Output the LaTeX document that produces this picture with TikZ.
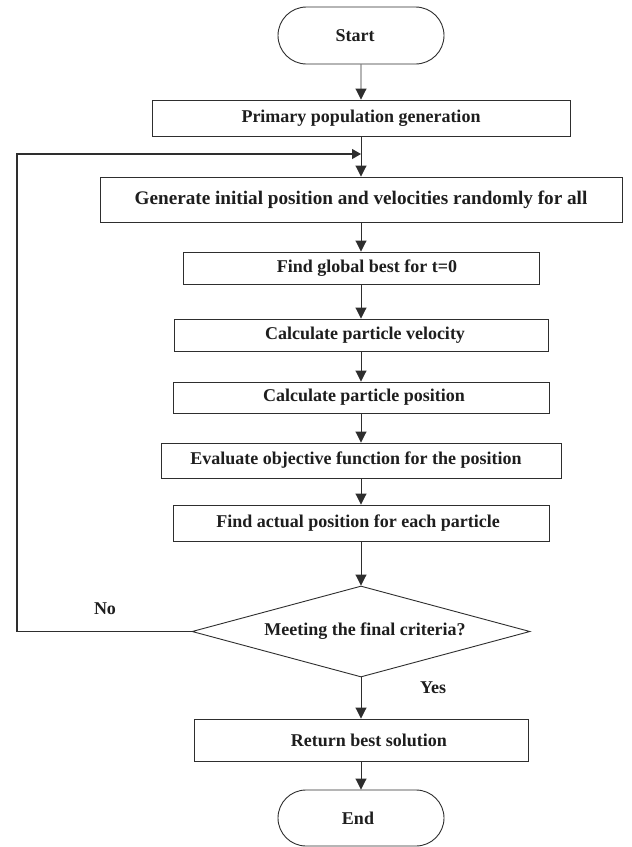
\documentclass[tikz,border=0pt]{standalone}
\usepackage{fontspec}
\setmainfont{Liberation Serif}
\usetikzlibrary{shapes.geometric,shapes.misc,arrows.meta}
\definecolor{ln}{HTML}{2E2E2E}
\definecolor{tx}{HTML}{1E1E1E}
\tikzset{
  base/.style={draw=ln,line width=0.9pt,text=tx,inner sep=0pt,font=\fontsize{18}{20}\selectfont\bfseries},
  procbox/.style={base,rectangle,minimum width=#1},
  term/.style={base,rounded rectangle,minimum width=166pt,minimum height=57pt},
  decide/.style={base,diamond,minimum width=338pt,minimum height=91pt,aspect=3.7},
  flow/.style={draw=ln,line width=0.9pt,-{Triangle[width=11pt,length=11pt]}},
  loopflow/.style={draw=ln,line width=1.1pt,-{Triangle[width=10pt,length=9pt]}},
  lbl/.style={text=tx,inner sep=0pt,font=\fontsize{18}{20}\selectfont\bfseries}
}
\begin{document}
\begin{tikzpicture}[x=1pt,y=1pt]
\useasboundingbox[fill=white] (0,0) rectangle (632,-847);
\node[term] (start) at (361,-35.5) {Start\hspace*{12pt}};
\node[procbox=418pt,minimum height=36pt] (pop) at (361,-118) {Primary population generation};
\node[procbox=522pt,minimum height=45pt,font=\fontsize{19.2}{21}\selectfont\bfseries] (gen) at (361,-199.5) {Generate initial position and velocities randomly for all};
\node[procbox=356pt,minimum height=32pt] (glob) at (361,-268) {\hspace*{12pt}Find global best for t=0};
\node[procbox=374pt,minimum height=32pt] (vel) at (361,-335) {\hspace*{8pt}Calculate particle velocity};
\node[procbox=376pt,minimum height=31pt] (pos) at (361,-397.5) {\hspace*{6pt}Calculate particle position};
\node[procbox=400pt,minimum height=35pt] (eval) at (361,-460.5) {Evaluate objective function for the position\hspace*{10pt}};
\node[procbox=376pt,minimum height=36pt] (act) at (361,-523) {Find actual position for each particle\hspace*{6pt}};
\node[decide] (dec) at (361,-631.5) {\hspace*{8pt}Meeting the final criteria?};
\node[procbox=334pt,minimum height=42pt] (ret) at (361,-740) {\hspace*{16pt}Return best solution};
\node[term,minimum height=56pt] (end) at (361,-818) {End\hspace*{6pt}};
\coordinate (join) at (361,-154);
\coordinate (cornerB) at (17,-631.5);
\coordinate (cornerT) at (17,-154);
\node[lbl] (no) at (105,-609) {No};
\node[lbl] (yes) at (433,-688) {Yes};
\draw[flow] (start) -- (pop);
\draw[flow] (pop) -- (gen);
\draw[flow] (gen) -- (glob);
\draw[flow] (glob) -- (vel);
\draw[flow] (vel) -- (pos);
\draw[flow] (pos) -- (eval);
\draw[flow] (eval) -- (act);
\draw[flow] (act) -- (dec);
\draw[flow] (dec) -- (ret);
\draw[flow] (ret) -- (end);
\draw[loopflow] (dec.west) -- (cornerB) -- (cornerT) -- (join);
\end{tikzpicture}
\end{document}
